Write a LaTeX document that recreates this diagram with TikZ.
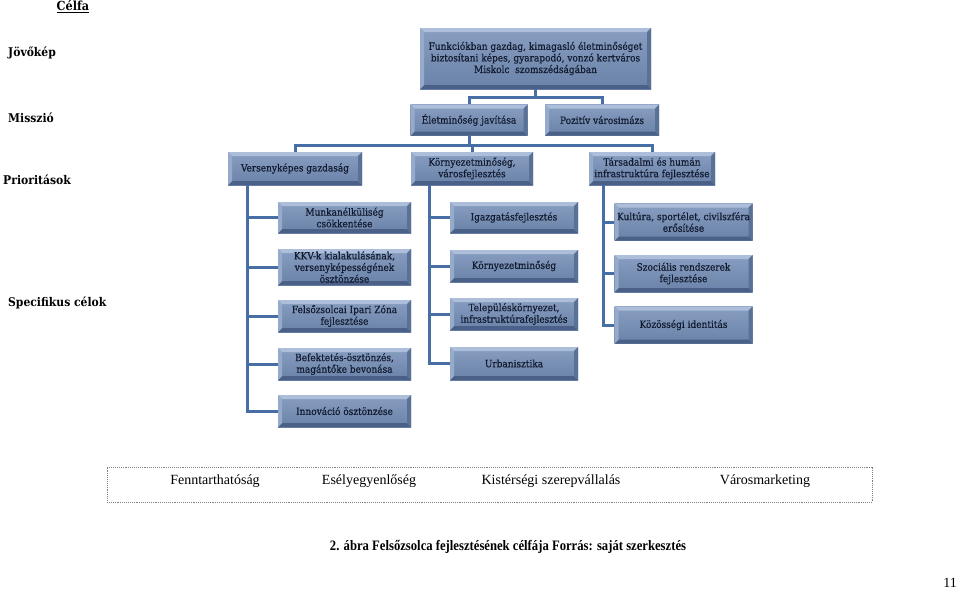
\documentclass[tikz,border=0pt]{standalone}
\usepackage{fontspec}
\setmainfont{Liberation Serif}
\newfontfamily\capfont[FakeStretch=0.88]{Liberation Serif}
\newfontfamily\cfont{DejaVu Serif Condensed}
\newfontfamily\cbfont[FakeBold=0.5]{DejaVu Serif Condensed}
\definecolor{bxtop}{RGB}{136,158,193}
\definecolor{bxbot}{RGB}{106,130,168}
\definecolor{bvT}{RGB}{172,190,217}
\definecolor{bvL}{RGB}{150,171,203}
\definecolor{bvR}{RGB}{90,113,150}
\definecolor{bvB}{RGB}{74,96,134}
\definecolor{txtc}{RGB}{18,27,48}
\definecolor{conc}{RGB}{72,110,166}
\newcommand{\bfont}{\cbfont\fontsize{10}{11.6}\selectfont}
\tikzset{
  bx/.style={rectangle, inner sep=0pt, align=center, font=\bfont, text=txtc,
    top color=bxtop, bottom color=bxbot,
    path picture={
      \fill[bvT] (path picture bounding box.north west) -- (path picture bounding box.north east) -- ([xshift=-4pt,yshift=-4pt]path picture bounding box.north east) -- ([xshift=4pt,yshift=-4pt]path picture bounding box.north west) -- cycle;
      \fill[bvB] (path picture bounding box.south west) -- (path picture bounding box.south east) -- ([xshift=-4pt,yshift=4pt]path picture bounding box.south east) -- ([xshift=4pt,yshift=4pt]path picture bounding box.south west) -- cycle;
      \fill[bvL] (path picture bounding box.north west) -- (path picture bounding box.south west) -- ([xshift=4pt,yshift=4pt]path picture bounding box.south west) -- ([xshift=4pt,yshift=-4pt]path picture bounding box.north west) -- cycle;
      \fill[bvR] (path picture bounding box.north east) -- (path picture bounding box.south east) -- ([xshift=-4pt,yshift=4pt]path picture bounding box.south east) -- ([xshift=-4pt,yshift=-4pt]path picture bounding box.north east) -- cycle;
    }},
  conn/.style={draw=conc, line width=3pt},
  lab/.style={anchor=west, font=\cfont\fontsize{12}{14}\selectfont\bfseries, inner sep=0pt},
  itm/.style={font=\fontsize{14}{16}\selectfont, inner sep=0pt}
}
\begin{document}
\begin{tikzpicture}[x=1pt,y=-1pt]
\useasboundingbox[fill=white] (0,0) rectangle (959,590);
% left labels
\node[font=\cfont\fontsize{12.5}{14}\selectfont\bfseries, inner sep=0pt] (celfa) at (73,7) {\underline{Célfa}};
\node[lab] (ljov) at (8,53) {Jövőkép};
\node[lab] (lmis) at (8,118) {Misszió};
\node[lab] (lpri) at (3,180) {Prioritások};
\node[lab] (lspe) at (8,303) {Specifikus célok};
% boxes
\node[bx, minimum width=231pt, minimum height=61pt] (jov) at (535.5,58.5) {Funkciókban gazdag, kimagasló életminőséget\\ biztosítani képes, gyarapodó, vonzó kertváros\\ Miskolc\ \ szomszédságában};
\node[bx, minimum width=117pt, minimum height=31pt] (elet) at (469,120) {Életminőség javítása};
\node[bx, minimum width=114pt, minimum height=31pt] (poz) at (602,120) {Pozitív városimázs};
\node[bx, minimum width=134pt, minimum height=33pt] (ver) at (295,168.5) {Versenyképes gazdaság};
\node[bx, minimum width=122pt, minimum height=33pt] (kor) at (472,168.5) {Környezetminőség,\\ városfejlesztés};
\node[bx, minimum width=126pt, minimum height=33pt] (tar) at (652,168.5) {Társadalmi és humán\\ infrastruktúra fejlesztése};
% column 1
\node[bx, minimum width=133pt, minimum height=31pt] (munk) at (344.5,217.5) {Munkanélküliség\\ csökkentése};
\node[bx, minimum width=133pt, minimum height=36pt] (kkv) at (344.5,267) {KKV-k kialakulásának,\\ versenyképességének\\ ösztönzése};
\node[bx, minimum width=133pt, minimum height=32pt] (felso) at (344.5,316) {Felsőzsolcai Ipari Zóna\\ fejlesztése};
\node[bx, minimum width=133pt, minimum height=32pt] (befek) at (344.5,364) {Befektetés-ösztönzés,\\ magántőke bevonása};
\node[bx, minimum width=133pt, minimum height=32pt] (innov) at (344.5,411) {Innováció ösztönzése};
% column 2
\node[bx, minimum width=128pt, minimum height=31pt] (igaz) at (514,217.5) {Igazgatásfejlesztés};
\node[bx, minimum width=128pt, minimum height=32pt] (kmin) at (514,266) {Környezetminőség};
\node[bx, minimum width=128pt, minimum height=32pt] (telep) at (514,314) {Településkörnyezet,\\ infrastruktúrafejlesztés};
\node[bx, minimum width=128pt, minimum height=33pt] (urb) at (514,363.5) {Urbanisztika};
% column 3
\node[bx, minimum width=138pt, minimum height=37pt] (kult) at (683.5,222) {Kultúra, sportélet, civilszféra\\ erősítése};
\node[bx, minimum width=138pt, minimum height=37pt] (szoc) at (683.5,273.5) {Szociális rendszerek\\ fejlesztése};
\node[bx, minimum width=138pt, minimum height=37pt] (kozos) at (683.5,325) {Közösségi identitás};
% connectors
\coordinate (b1) at (537,97);
\coordinate (b2) at (469,145);
\draw[conn] (jov.south) -- (jov.south |- b1);
\draw[conn] (elet.north) |- (poz.north |- b1) -- (poz.north);
\draw[conn] (elet.south) -- (elet.south |- b2);
\draw[conn] (ver.north) |- (tar.north |- b2) -- (tar.north);
\draw[conn] (kor.north |- b2) -- (kor.north);
\coordinate (c1) at (247,185);
\coordinate (c2) at (429,185);
\coordinate (c3) at (603,185);
\draw[conn] (c1) |- (innov.west);
\draw[conn] (c1 |- munk.west) -- (munk.west);
\draw[conn] (c1 |- kkv.west) -- (kkv.west);
\draw[conn] (c1 |- felso.west) -- (felso.west);
\draw[conn] (c1 |- befek.west) -- (befek.west);
\draw[conn] (c2) |- (urb.west);
\draw[conn] (c2 |- igaz.west) -- (igaz.west);
\draw[conn] (c2 |- kmin.west) -- (kmin.west);
\draw[conn] (c2 |- telep.west) -- (telep.west);
\draw[conn] (c3) |- (kozos.west);
\draw[conn] (c3 |- kult.west) -- (kult.west);
\draw[conn] (c3 |- szoc.west) -- (szoc.west);
% bottom box
\node[draw=gray, densely dotted, line width=0.9pt, minimum width=765pt, minimum height=35pt, inner sep=0pt] (horiz) at (489.5,484.5) {};
\node[itm] (h1) at (215,481) {Fenntarthatóság};
\node[itm] (h2) at (369,481) {Esélyegyenlőség};
\node[itm] (h3) at (551,481) {Kistérségi szerepvállalás};
\node[itm] (h4) at (765,481) {Városmarketing};
% caption
\node[inner sep=0pt, font=\capfont\fontsize{14.4}{16}\selectfont\bfseries] (cap) at (508,547) {2. ábra Felsőzsolca fejlesztésének célfája Forrás: saját szerkesztés};
\node[inner sep=0pt, font=\fontsize{14}{16}\selectfont] (pnum) at (950,583) {11};
\end{tikzpicture}
\end{document}
